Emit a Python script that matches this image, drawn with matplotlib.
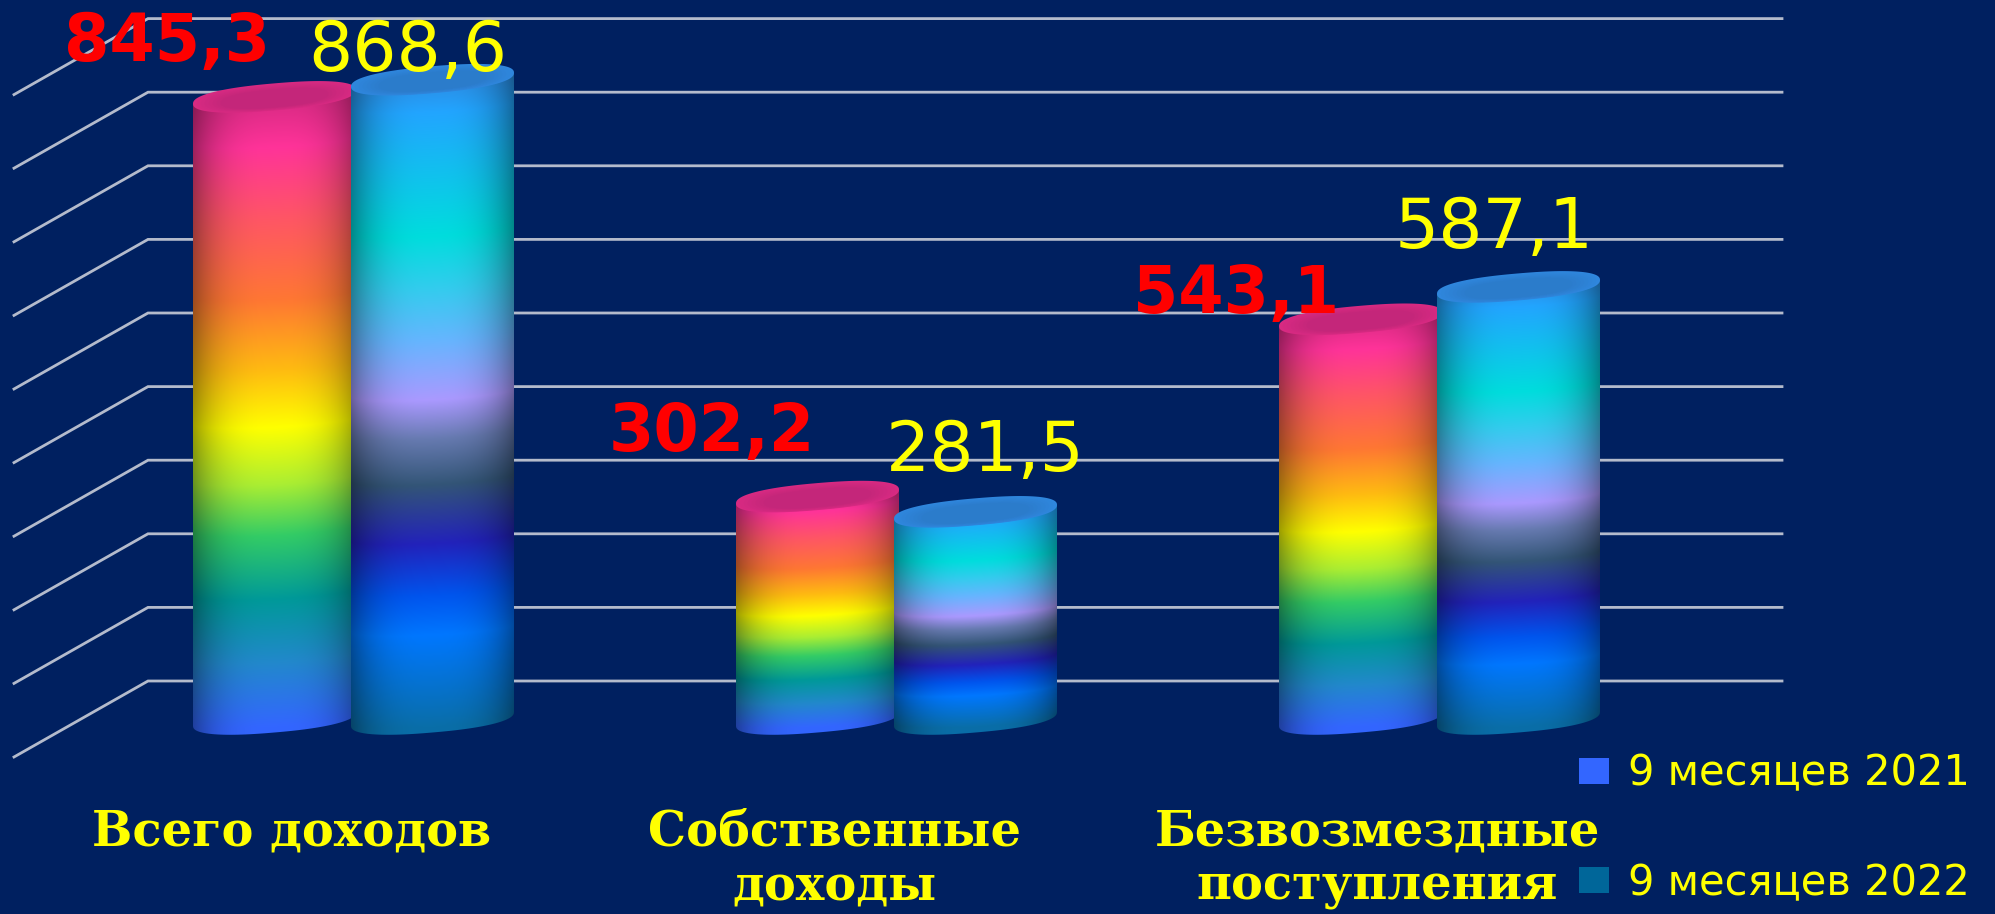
#!/usr/bin/env python3
# -*- coding: utf-8 -*-
import numpy as np
import matplotlib
matplotlib.use('Agg')
import matplotlib.pyplot as plt
from matplotlib.colors import to_rgb
from matplotlib.patches import Patch, Polygon

CATEGORIES = [['Всего доходов'], ['Собственные', 'доходы'], ['Безвозмездные', 'поступления']]
SERIES_2021 = [845.3, 302.2, 543.1]
SERIES_2022 = [868.6, 281.5, 587.1]
LABELS_2021 = ['845,3', '302,2', '543,1']
LABELS_2022 = ['868,6', '281,5', '587,1']
LEGEND_NAMES = ['9 месяцев 2021', '9 месяцев 2022']
GRID_VALUES = [0, 100, 200, 300, 400, 500, 600, 700, 800, 900]

BG = '#002060'
GRID = '#b4bbcc'

# layout, all in pixels of the 1995x914 figure
GROUP_X0 = 353.5
GROUP_STEP = 543.0
BAR_OFFSET = 79.0
BAR_A = 81.5
BAR_B = 13.5
BAR_TILT = 0.085
ZERO_Y = 719.0
PX_PER_UNIT = 0.736
DEPTH = 38.0
GRID_RIGHT = 1782
GRID_LEFT = 148
GRID_FRONT = 14

# label offsets from the top of each bar (dx, dy, y pointing up)
OFFS_2021 = [(-107, 54), (-106, 64), (-124, 24)]
OFFS_2022 = [(-25, 28), (10, 60), (-24, 58)]

STOPS_2021 = [(0.0, '#d0287f'), (0.09, '#ff3399'), (0.20, '#ff5566'), (0.33, '#ff7733'),
              (0.44, '#ffbb11'), (0.53, '#ffff00'), (0.62, '#aaee33'), (0.70, '#33cc66'),
              (0.80, '#009999'), (0.90, '#2288cc'), (1.0, '#3366ff')]
STOPS_2022 = [(0.0, '#2f86dd'), (0.06, '#22a5ff'), (0.25, '#00dddd'), (0.33, '#33ccee'),
              (0.41, '#66b5ff'), (0.50, '#aa99ff'), (0.56, '#667ab0'), (0.63, '#335577'),
              (0.72, '#2222bb'), (0.80, '#0055ee'), (0.86, '#0077ff'), (1.0, '#0a6ea8')]


def px_x(dx):
    return dx / GROUP_STEP


def px_y(dy):
    return dy / PX_PER_UNIT


def ring(pos, value, scale, t):
    # rounder than a true ellipse, the caps in the picture have blunt ends
    c = np.cos(t)
    s = np.sin(t)
    cx = np.sign(c) * np.abs(c) ** 0.85
    sy = np.sign(s) * np.abs(s) ** 0.85
    x = pos + scale * px_x(BAR_A) * cx
    y = value + scale * px_y(BAR_B) * sy + px_y(BAR_TILT * BAR_A) * cx * scale
    return x, y


def draw_cylinder(ax, pos, value, stops, cap, cap_in, z):
    # one cylinder: shaded image clipped to the body, cap on top
    a = px_x(BAR_A)
    height_px = value * PX_PER_UNIT
    edge = np.hypot(BAR_B, BAR_TILT * BAR_A) + 1

    w = int(BAR_A * 2)
    h = int(height_px + 2 * edge)
    u = np.linspace(-1, 1, w)
    yy = np.arange(h) - edge
    uu, yy = np.meshgrid(u, yy)
    front = 0.5 * BAR_B * np.sqrt(1 - uu ** 2) - 0.6 * BAR_TILT * BAR_A * uu
    frac = np.clip((yy - front + BAR_B) / (height_px + BAR_B), 0, 1)

    fr = [s[0] for s in stops]
    rgb = np.array([to_rgb(s[1]) for s in stops])
    img = np.dstack([np.interp(frac, fr, rgb[:, i]) for i in range(3)])
    shade = 0.62 + 0.38 * (1 - np.abs(uu) ** 3.0)
    img = img * shade[:, :, None]

    im = ax.imshow(img, extent=(pos - a, pos + a, -px_y(edge), value + px_y(edge)),
                   aspect='auto', interpolation='bilinear', zorder=z)

    t = np.linspace(np.pi, 2 * np.pi, 60)
    base_x, base_y = ring(pos, 0, 1.0, t)
    xs = [pos - a] + list(base_x) + [pos + a]
    ys = [value - px_y(BAR_TILT * BAR_A)] + list(base_y) + [value + px_y(BAR_TILT * BAR_A)]
    body = Polygon(np.column_stack([xs, ys]), closed=True, transform=ax.transData)
    im.set_clip_path(body)

    # nested fills fade the cap from rim to middle
    t = np.linspace(0, 2 * np.pi, 160)
    c0 = np.array(to_rgb(cap))
    c1 = np.array(to_rgb(cap_in))
    for k, scale in enumerate(np.linspace(1.0, 0.66, 8)):
        mix = k / 7
        top_x, top_y = ring(pos, value - px_y(1.5 * mix), scale, t)
        ax.fill(top_x, top_y, color=c0 * (1 - mix) + c1 * mix, lw=0, zorder=z + 0.1 + k * 0.01)


fig = plt.figure(figsize=(19.95, 9.14), dpi=100, facecolor=BG)
ax = fig.add_axes([0, 0, 1, 1])
ax.set_facecolor(BG)

# wall lines plus the slanted run towards the viewer
for v in GRID_VALUES:
    ax.plot([(GRID_FRONT - GROUP_X0) / GROUP_STEP, (GRID_LEFT - GROUP_X0) / GROUP_STEP,
             (GRID_RIGHT - GROUP_X0) / GROUP_STEP],
            [v - px_y(DEPTH), v + px_y(DEPTH), v + px_y(DEPTH)],
            color=GRID, lw=2.0, zorder=1, solid_joinstyle='miter')

off = px_x(BAR_OFFSET)
for i in range(len(CATEGORIES)):
    draw_cylinder(ax, i - off, SERIES_2021[i], STOPS_2021, '#d82a82', '#c4267a', 3)
    draw_cylinder(ax, i + off, SERIES_2022[i], STOPS_2022, '#2f86dd', '#2b7ccb', 4)

    ax.annotate(LABELS_2021[i], (i - off, SERIES_2021[i]), xytext=OFFS_2021[i],
                textcoords='offset pixels', color='#ff0000', fontsize=47, fontweight='bold',
                family='DejaVu Sans', ha='center', va='center', zorder=6)
    ax.annotate(LABELS_2022[i], (i + off, SERIES_2022[i]), xytext=OFFS_2022[i],
                textcoords='offset pixels', color='#ffff00', fontsize=50,
                family='DejaVu Sans', ha='center', va='center', zorder=6)

    # category names sit left of the group centre
    for j, line in enumerate(CATEGORIES[i]):
        ax.text(i + px_x(-62), px_y(ZERO_Y - 832 - 55 * j), line, color='#ffff00', fontsize=34.5,
                fontweight='bold', family='DejaVu Serif', ha='center', va='center', zorder=6)

handles = [Patch(facecolor='#3366ff', label=LEGEND_NAMES[0]),
           Patch(facecolor='#006699', label=LEGEND_NAMES[1])]
ax.legend(handles=handles, loc='lower left', bbox_to_anchor=(1579 / 1995, 10 / 914),
          bbox_transform=fig.transFigure, frameon=False, fontsize=30, labelcolor='#ffff00',
          handlelength=0.72, handleheight=0.575, handletextpad=0.456, labelspacing=1.62,
          borderpad=0, borderaxespad=0)

ax.set_xlim((0 - GROUP_X0) / GROUP_STEP, (1995 - GROUP_X0) / GROUP_STEP)
ax.set_ylim(px_y(ZERO_Y - 914), px_y(ZERO_Y))
ax.axis('off')

fig.savefig('out.png', dpi=100, facecolor=BG)
